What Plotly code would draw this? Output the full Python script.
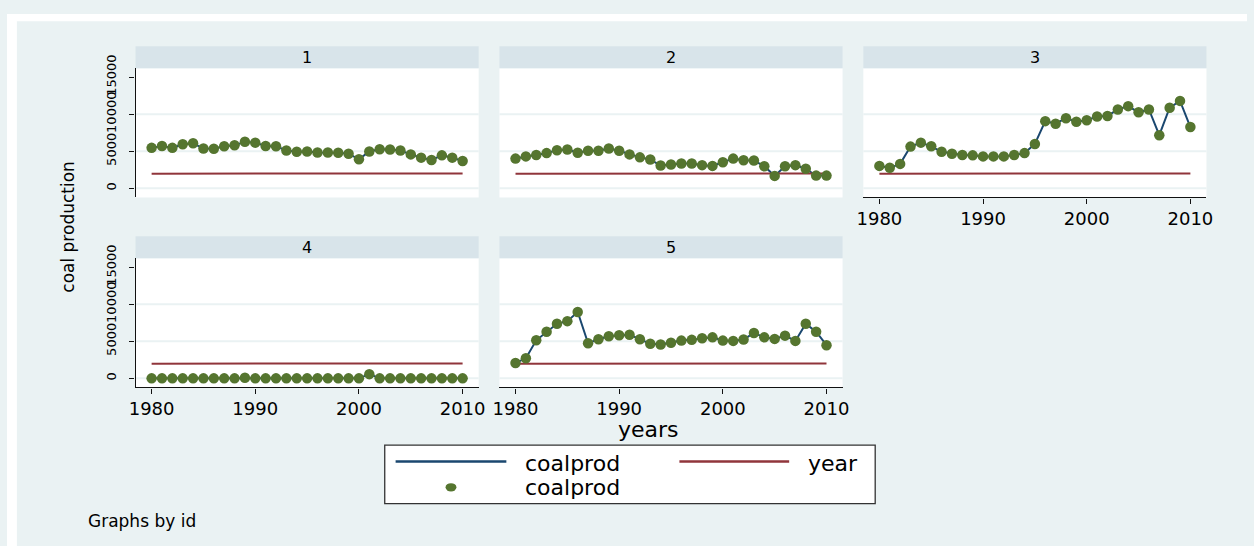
import plotly.graph_objects as go

# ---- data -------------------------------------------------------------
years = list(range(1980, 2011))
panel_ids = ["1", "2", "3", "4", "5"]

coalprod_1 = [5460, 5720, 5460, 5940, 6070, 5370, 5330, 5670, 5800, 6290,
              6160, 5720, 5670, 5100, 4930, 4970, 4840, 4840, 4800, 4670,
              3920, 4970, 5280, 5240, 5100, 4580, 4140, 3830, 4450, 4140,
              3700]
coalprod_2 = [4010, 4310, 4490, 4750, 5140, 5240, 4800, 5060, 5060, 5370,
              5060, 4580, 4180, 3880, 3090, 3220, 3350, 3350, 3130, 3030,
              3520, 4010, 3790, 3750, 2990, 1680, 2990, 3130, 2640, 1720,
              1720]
coalprod_3 = [3030, 2770, 3300, 5630, 6160, 5670, 4930, 4670, 4490, 4450,
              4310, 4310, 4310, 4490, 4750, 5990, 9060, 8710, 9460, 8970,
              9190, 9680, 9760, 10640, 11080, 10250, 10640, 7170, 10870, 11790,
              8270]
coalprod_4 = [0, 0, 0, 0, 0, 0, 0, 0, 0, 80,
              0, 0, 0, 0, 0, 0, 0, 0, 0, 0,
              0, 570, 0, 0, 0, 0, 0, 0, 0, 0,
              0]
coalprod_5 = [2080, 2700, 5130, 6290, 7350, 7710, 8950, 4730, 5270, 5670,
              5800, 5890, 5270, 4660, 4560, 4790, 5090, 5190, 5400, 5530,
              5090, 5050, 5230, 6120, 5530, 5320, 5760, 5050, 7350, 6290,
              4470]
year_series = years

x_ticks = [1980, 1990, 2000, 2010]
y_ticks = [0, 5000, 10000, 15000]
y_ticklabels = ["0", "5000", "10000", "15000"]
grid_values = [0, 5000, 10000]

# ---- style ------------------------------------------------------------
W, H = 1254, 546
FONT = "DejaVu Sans"
BG = "#EAF2F3"
STRIP = "#D8E4EA"
NAVY = "#1A476F"
MAROON = "#90353B"
GREEN = "#55752F"


def px(x):
    """pixel -> paper fraction"""
    return x / W


def py(y):
    return 1 - y / H


cols = [(130, 477), (498, 845), (866, 1213)]
rows = [(55.7, 188.3), (250.7, 383.3)]
strip_h = 22.5

# panel -> (row, col, show x axis, show y axis)
layout_cells = [(0, 0, False, True), (0, 1, False, False), (0, 2, True, False),
                (1, 0, True, True), (1, 1, True, False)]
series = [coalprod_1, coalprod_2, coalprod_3, coalprod_4, coalprod_5]

fig = go.Figure()
layout = dict(
    width=W, height=H,
    margin=dict(l=0, r=0, t=0, b=0),
    paper_bgcolor=BG, plot_bgcolor="white",
    showlegend=False,
    font=dict(family=FONT, color="black"),
)
shapes = []
annotations = []

# white frame on the left and top edges
shapes.append(dict(type="rect", xref="paper", yref="paper", x0=0, x1=px(10), y0=0, y1=1,
                   fillcolor="white", line=dict(width=0), layer="below"))
shapes.append(dict(type="rect", xref="paper", yref="paper", x0=0, x1=1, y0=py(7.5), y1=1,
                   fillcolor="white", line=dict(width=0), layer="below"))

for i, (pid, vals, (r, c, show_x, show_y)) in enumerate(zip(panel_ids, series, layout_cells)):
    n = i + 1
    xa = "x" if n == 1 else f"x{n}"
    ya = "y" if n == 1 else f"y{n}"
    x0, x1 = cols[c]
    top, bot = rows[r]

    fig.add_trace(go.Scatter(x=years, y=vals, mode="lines", name="coalprod",
                             line=dict(color=NAVY, width=2), xaxis=xa, yaxis=ya))
    fig.add_trace(go.Scatter(x=years, y=year_series, mode="lines", name="year",
                             line=dict(color=MAROON, width=2), xaxis=xa, yaxis=ya))
    fig.add_trace(go.Scatter(x=years, y=vals, mode="markers", name="coalprod",
                             marker=dict(color=GREEN, size=10.5, line=dict(width=0)),
                             xaxis=xa, yaxis=ya))

    xkey = "xaxis" if n == 1 else f"xaxis{n}"
    ykey = "yaxis" if n == 1 else f"yaxis{n}"
    layout[xkey] = dict(
        domain=[px(x0), px(x1)], anchor=ya, range=[1978.45, 2011.55],
        showgrid=False, zeroline=False,
        showline=show_x, linecolor="#111", linewidth=1.3,
        ticks="outside" if show_x else "", ticklen=5, tickcolor="#111", tickwidth=1,
        tickmode="array", tickvals=x_ticks, showticklabels=show_x,
        tickfont=dict(family=FONT, size=18, color="black"),
    )
    layout[ykey] = dict(
        domain=[py(bot), py(top)], anchor=xa, range=[-1227, 16187],
        showgrid=False, zeroline=False,
        showline=show_y, linecolor="#111", linewidth=1.3,
        ticks="outside" if show_y else "", ticklen=5, tickcolor="#111", tickwidth=1,
        tickmode="array", tickvals=y_ticks, ticktext=y_ticklabels,
        showticklabels=show_y, tickangle=-90, ticklabelstandoff=8,
        tickfont=dict(family=FONT, size=13, color="black"),
    )

    # horizontal grid lines inside each panel
    for g in grid_values:
        shapes.append(dict(type="line", xref=f"{xa} domain", yref=ya, x0=0, x1=1, y0=g, y1=g,
                           line=dict(color=BG, width=2), layer="below"))

    # panel heading strip
    shapes.append(dict(type="rect", xref="paper", yref="paper",
                       x0=px(x0), x1=px(x1), y0=py(top), y1=py(top - strip_h),
                       fillcolor=STRIP, line=dict(width=0), layer="below"))
    annotations.append(dict(text=pid, xref="paper", yref="paper",
                            x=px((x0 + x1) / 2), y=py(top - strip_h / 2),
                            xanchor="center", yanchor="middle", showarrow=False,
                            font=dict(family=FONT, size=16, color="black")))

# shared axis titles and note
annotations.append(dict(text="years", xref="paper", yref="paper", x=px(649), y=py(426),
                        xanchor="center", yanchor="middle", showarrow=False,
                        font=dict(family=FONT, size=22, color="black")))
annotations.append(dict(text="coal production", xref="paper", yref="paper", x=px(62), y=py(218),
                        xanchor="center", yanchor="middle", showarrow=False, textangle=-90,
                        font=dict(family=FONT, size=17, color="black")))
annotations.append(dict(text="Graphs by id", xref="paper", yref="paper", x=px(80), y=py(520),
                        xanchor="left", yanchor="middle", showarrow=False,
                        font=dict(family=FONT, size=17, color="black")))

# legend box
shapes.append(dict(type="rect", xref="paper", yref="paper",
                   x0=px(382), x1=px(878), y0=py(502.5), y1=py(442.5),
                   fillcolor="white", line=dict(color="#333", width=1.3)))
shapes.append(dict(type="line", xref="paper", yref="paper", x0=px(393), x1=px(505),
                   y0=py(459.3), y1=py(459.3), line=dict(color=NAVY, width=2.5)))
shapes.append(dict(type="line", xref="paper", yref="paper", x0=px(680), x1=px(791),
                   y0=py(459.3), y1=py(459.3), line=dict(color=MAROON, width=2.5)))
shapes.append(dict(type="circle", xref="paper", yref="paper", x0=px(443.5), x1=px(454.5),
                   y0=py(490), y1=py(481.5), fillcolor=GREEN, line=dict(width=0)))
for label, lx, ly in [("coalprod", 522, 461), ("year", 808, 461), ("coalprod", 522, 486)]:
    annotations.append(dict(text=label, xref="paper", yref="paper", x=px(lx), y=py(ly),
                            xanchor="left", yanchor="middle", showarrow=False,
                            font=dict(family=FONT, size=22, color="black")))

layout["shapes"] = shapes
layout["annotations"] = annotations
fig.update_layout(**layout)
fig.write_html("out.html")
